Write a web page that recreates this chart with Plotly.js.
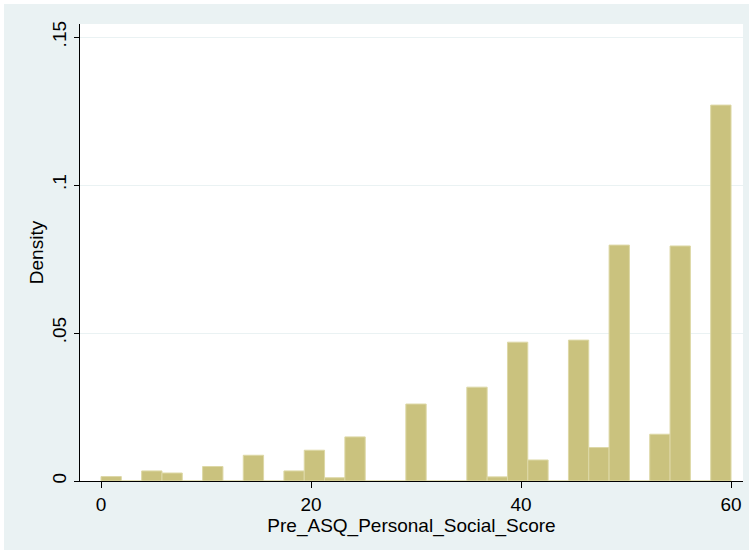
<!DOCTYPE html>
<html>
<head>
<meta charset="utf-8">
<script src="https://cdn.plot.ly/plotly-3.0.1.min.js"></script>
<style>
html,body{margin:0;padding:0;background:#ffffff;}
#chart{position:absolute;left:4px;top:4px;width:745px;height:546px;}
</style>
</head>
<body>
<div id="chart"></div>
<script>
// Histogram: 31 bins from 0 to 60
const binStart = 0;
const binEnd = 60;
const density = [
  0.0015, 0, 0.0034, 0.0027, 0, 0.0049, 0, 0.0087, 0, 0.0034,
  0.0104, 0.0011, 0.0149, 0, 0, 0.0260, 0, 0, 0.0317, 0.0014,
  0.0469, 0.0071, 0, 0.0476, 0.0113, 0.0797, 0, 0.0158, 0.0794, 0,
  0.1270
];
const xTickVals = [0, 20, 40, 60];
const xTickText = ["0", "20", "40", "60"];
const yTickVals = [0, 0.05, 0.1, 0.15];
const yTickText = ["0", ".05", ".1", ".15"];
const xTitle = "Pre_ASQ_Personal_Social_Score";
const yTitle = "Density";

const nBins = density.length;
const binWidth = (binEnd - binStart) / nBins;
const centers = density.map((_, i) => binStart + (i + 0.5) * binWidth);

const trace = {
  type: 'bar',
  x: centers,
  y: density,
  width: density.map(() => binWidth),
  marker: {color: '#CAC27E', line: {color: '#DDD8A6', width: 1}},
  hoverinfo: 'x+y'
};

const font = {family: 'Liberation Sans, Arial, sans-serif', size: 19, color: '#000000'};

const layout = {
  width: 745, height: 546,
  paper_bgcolor: '#EAF2F3',
  plot_bgcolor: '#FFFFFF',
  margin: {l: 76, r: 6, t: 20, b: 69},
  showlegend: false,
  font: font,
  bargap: 0,
  xaxis: {
    range: [-2, 61.14],
    tickvals: xTickVals, ticktext: xTickText,
    ticks: 'outside', ticklen: 6, tickwidth: 1, tickcolor: '#000',
    showline: true, linecolor: '#000', linewidth: 1,
    showgrid: false, zeroline: false,
    tickfont: font,
    title: {text: xTitle, font: font, standoff: 2}
  },
  yaxis: {
    range: [0, 0.1544],
    tickvals: yTickVals, ticktext: yTickText,
    tickangle: -90,
    ticks: 'outside', ticklen: 5, tickwidth: 1, tickcolor: '#000',
    showline: true, linecolor: '#000', linewidth: 1,
    showgrid: true, gridcolor: '#EAF2F3', gridwidth: 1,
    zeroline: false,
    tickfont: font,
    title: {text: yTitle, font: font, standoff: 0}
  }
};

Plotly.newPlot('chart', [trace], layout, {displayModeBar: false, staticPlot: true});
</script>
</body>
</html>
